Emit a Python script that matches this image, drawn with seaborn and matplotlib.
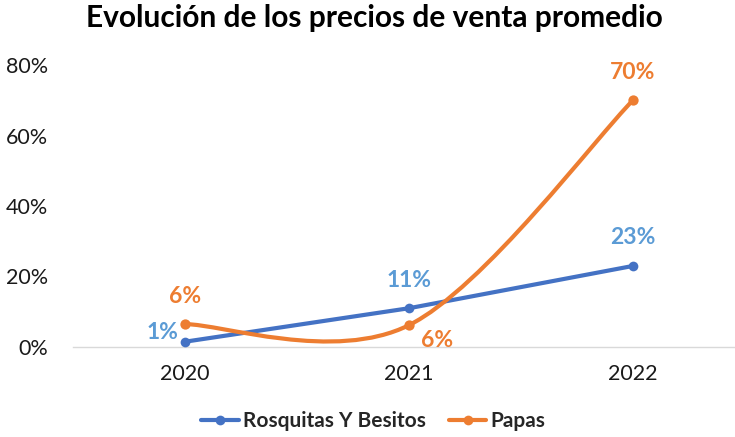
import numpy as np
import pandas as pd
import seaborn as sns
import matplotlib.pyplot as plt
from matplotlib.path import Path
from matplotlib.patches import PathPatch
from matplotlib.lines import Line2D
from matplotlib.ticker import PercentFormatter

years = ["2020", "2021", "2022"]
rosquitas = [0.015, 0.11, 0.23]
papas = [0.065, 0.062, 0.70]
rosquitas_labels = ["1%", "11%", "23%"]
papas_labels = ["6%", "6%", "70%"]

blue = "#4472C4"
blue_lbl = "#5B9BD5"
orange = "#ED7D31"

sns.set_theme(style="white")
plt.rcParams["font.family"] = ["Lato", "DejaVu Sans"]

fig = plt.figure(figsize=(7.35, 4.37), dpi=100)
ax = fig.add_axes([73 / 735, 1 - 347 / 437, 662 / 735, 282 / 437])

x = np.arange(len(years))
df = pd.DataFrame({"x": x, "Rosquitas Y Besitos": rosquitas, "Papas": papas})

# blue: straight line
sns.lineplot(data=df, x="x", y="Rosquitas Y Besitos", ax=ax, color=blue,
             linewidth=3, marker="o", markersize=7, markeredgewidth=0, zorder=3)

# orange: smoothed line like Excel (Catmull-Rom -> cubic bezier)
pts = np.column_stack([x, papas]).astype(float)
verts = [tuple(pts[0])]
codes = [Path.MOVETO]
n = len(pts)
for i in range(n - 1):
    p_prev = pts[i - 1] if i > 0 else pts[i]
    p_next2 = pts[i + 2] if i + 2 < n else pts[i + 1]
    c1 = pts[i] + (pts[i + 1] - p_prev) / 6
    c2 = pts[i + 1] - (p_next2 - pts[i]) / 6
    verts += [tuple(c1), tuple(c2), tuple(pts[i + 1])]
    codes += [Path.CURVE4] * 3
ax.add_patch(PathPatch(Path(verts, codes), facecolor="none", edgecolor=orange,
                       linewidth=3, capstyle="round", zorder=3))
sns.scatterplot(data=df, x="x", y="Papas", ax=ax, color=orange, s=55,
                linewidth=0, zorder=4)

# data labels
blue_off = [(-23, 9), (0, 28), (0, 28)]
orange_off = [(0, 28), (28, -15), (0, 28)]
for i in range(n):
    ax.annotate(rosquitas_labels[i], (x[i], rosquitas[i]), xytext=blue_off[i],
                textcoords="offset pixels", ha="center", va="center",
                color=blue_lbl, fontsize=16.5, fontweight="bold")
    ax.annotate(papas_labels[i], (x[i], papas[i]), xytext=orange_off[i],
                textcoords="offset pixels", ha="center", va="center",
                color=orange, fontsize=16.5, fontweight="bold")

ax.set_xlim(-0.5, 2.5 - 10 / 224)
ax.set_ylim(0, 0.8)
ax.set_xticks(x)
ax.set_xticklabels(years)
ax.set_yticks([0, 0.2, 0.4, 0.6, 0.8])
ax.yaxis.set_major_formatter(PercentFormatter(1.0, decimals=0))
ax.tick_params(axis="both", labelsize=15.5, colors="#1a1a1a", length=0)
ax.tick_params(axis="x", pad=12)
ax.tick_params(axis="y", pad=18)
ax.set_xlabel("")
ax.set_ylabel("")
for s in ["top", "right", "left"]:
    ax.spines[s].set_visible(False)
ax.spines["bottom"].set_color("#D9D9D9")
ax.spines["bottom"].set_linewidth(1)
if ax.get_legend():
    ax.get_legend().remove()

fig.suptitle("Evolución de los precios de venta promedio", fontsize=21.5,
             fontweight="bold", color="#000000", x=0.51, y=0.99)

handles = [
    Line2D([], [], color=blue, lw=3, marker="o", markersize=7, markeredgewidth=0),
    Line2D([], [], color=orange, lw=3, marker="o", markersize=7, markeredgewidth=0),
]
leg = fig.legend(handles, ["Rosquitas Y Besitos", "Papas"], loc="center",
                 bbox_to_anchor=(0.508, 1 - 421 / 437), ncol=2, frameon=False,
                 prop={"size": 15, "weight": "bold"}, handlelength=1.8,
                 columnspacing=1.1, handletextpad=0.2)

fig.savefig("out.png", dpi=100)
